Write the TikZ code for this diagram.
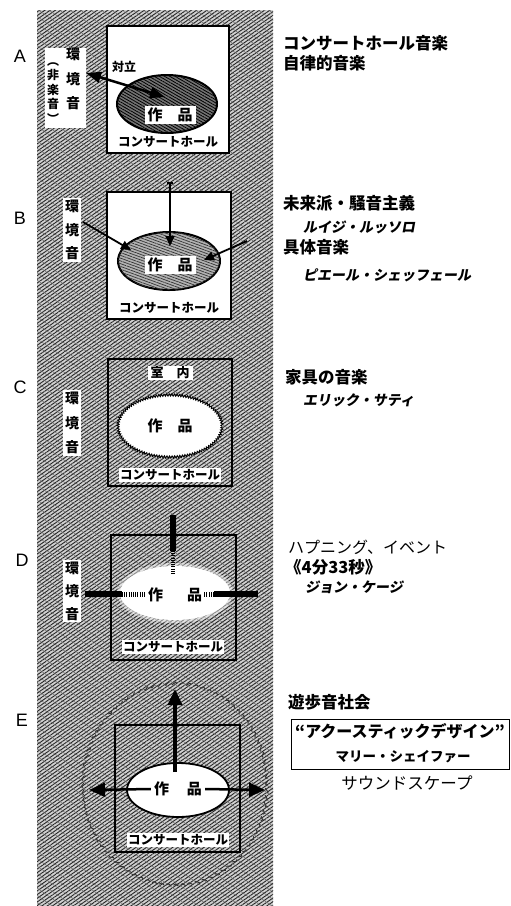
\documentclass[tikz,border=0pt]{standalone}
\usepackage{fontspec}
\setmainfont{Noto Sans CJK JP}
\newfontfamily\jpsl[FakeSlant=0.18]{Noto Sans CJK JP}
\newfontfamily\latf{Liberation Sans}
\usetikzlibrary{patterns.meta,arrows.meta,decorations.pathmorphing,shapes.geometric}
\newcommand\fsz[1]{\fontsize{#1}{#1}\selectfont}
\tikzset{
  texture/.style={fill=black!18, postaction={pattern={Lines[angle=35,distance=3pt,line width=0.9pt]}, pattern color=black!85}, postaction={pattern={Lines[angle=-35,distance=6pt,line width=0.5pt]}, pattern color=black!60}},
  darktex/.style={fill=black!55, postaction={pattern={Lines[angle=-30,distance=2.6pt,line width=0.8pt]}, pattern color=black}},
  lighttex/.style={fill=black!30, postaction={pattern={Lines[angle=-20,distance=2.6pt,line width=0.7pt]}, pattern color=black!80}},
  hall/.style={draw, line width=2.8pt, inner sep=0pt},
  lab/.style={font=\latf\fsz{18}, inner sep=0pt},
  work/.style={font=\bfseries\fsz{15}, fill=white, inner xsep=3pt, inner ysep=1.5pt},
  hallname/.style={font=\bfseries\fsz{12.5}, fill=white, inner sep=1pt},
  env/.style={font=\bfseries\fsz{14}, fill=white, align=center, inner xsep=2pt, inner ysep=2pt},
  head/.style={anchor=west, font=\bfseries\fsz{16.5}, inner sep=0pt},
  lighthead/.style={anchor=west, font=\fsz{16}, inner sep=0pt},
  who/.style={anchor=west, font=\jpsl\bfseries\fsz{14}, inner sep=0pt},
  arr/.style={-{Triangle[length=10pt,width=9pt]}, line width=1.8pt},
  bigarr/.style={-{Triangle[length=16pt,width=14pt]}, line width=3pt},
  bar/.style={line width=6pt},
  fuzzbar/.style={line width=5pt, dash pattern=on 1pt off 1.2pt},
}
\begin{document}
\begin{tikzpicture}[x=1pt,y=-1pt]
\useasboundingbox (0,0) rectangle (511,906);
\fill[white] (0,0) rectangle (511,906);
% textured strip
\path[texture] (37,10) rectangle (273,906);

% ---------------- A ----------------
\node[lab] (labA) at (20,56) {A};
\node[hall, fill=white, minimum width=122pt, minimum height=127pt] (hallA) at (168,89.5) {};
\node[ellipse, draw, line width=2pt, darktex, minimum width=100pt, minimum height=58pt] (elA) at (167,104) {};
\node[work] (workA) at (170,115) {作\hspace{1em}品};
\node[hallname] (hnA) at (168,142) {コンサートホール};
\node[fill=white, minimum width=41pt, minimum height=80pt] (envAbg) at (65.5,87.5) {};
\node[align=center, inner sep=0pt, font=\bfseries\fontsize{14}{24.5}\selectfont] (envA1) at (73,79) {環\\境\\音};
\node[align=center, inner sep=0pt, font=\bfseries\fontsize{12}{14.5}\selectfont] (envA2) at (53,93) {︵\\非\\楽\\音\\︶};
\node[font=\bfseries\fsz{12}, inner sep=0pt] (taiA) at (124,67) {対立};
\coordinate (aL) at (86,73);
\coordinate (aR) at (165,97);
\draw[{Triangle[length=15pt,width=11pt]}-{Triangle[length=15pt,width=11pt]}, line width=2.5pt] (aL) -- (aR);

% ---------------- B ----------------
\node[lab] (labB) at (20,218) {B};
\node[hall, fill=white, minimum width=124pt, minimum height=127pt] (hallB) at (169,255.5) {};
\node[ellipse, draw, line width=2pt, lighttex, minimum width=102pt, minimum height=58pt] (elB) at (169,261) {};
\node[work] (workB) at (170,265) {作\hspace{1em}品};
\node[hallname] (hnB) at (169,308) {コンサートホール};
\node[env, font=\bfseries\fontsize{14}{23.5}\selectfont] (envB) at (72,230) {環\\境\\音};
\coordinate (bT) at (170,183);
\coordinate (bTe) at (170,246);
\coordinate (bL) at (83,222);
\coordinate (bLe) at (131,250);
\coordinate (bR) at (247,241);
\coordinate (bRe) at (204,260);
\draw[line width=1.2pt] (167,183) -- (173,183);
\draw[arr] (bT) -- (bTe);
\draw[arr] (bL) -- (bLe);
\draw[arr] (bR) -- (bRe);

% ---------------- C ----------------
\node[lab] (labC) at (20,387) {C};
\node[hall, minimum width=124pt, minimum height=127pt] (hallC) at (170,422.5) {};
\node[work, font=\bfseries\fsz{13}, inner ysep=1pt] (roomC) at (170,373) {室\hspace{1em}内};
\node[ellipse, fill=white, minimum width=104pt, minimum height=62pt] (elC) at (170,426) {};
\draw[line width=0.9pt, decorate, decoration={zigzag, segment length=2.6pt, amplitude=1.1pt}] (elC.center) ellipse [x radius=52pt, y radius=31pt];
\node[work] (workC) at (170,426) {作\hspace{1em}品};
\node[hallname] (hnC) at (170,475) {コンサートホール};
\node[env, font=\bfseries\fontsize{14}{24.5}\selectfont] (envC) at (72,423) {環\\境\\音};

% ---------------- D ----------------
\node[lab] (labD) at (22,560) {D};
\node[hall, line width=2.5pt, minimum width=125pt, minimum height=125pt] (hallD) at (173.5,597.5) {};
\node[ellipse, fill=white, opacity=0.45, minimum width=116pt, minimum height=60pt] (elDsoft) at (175,593) {};
\node[ellipse, fill=white, minimum width=110pt, minimum height=54pt] (elD) at (175,593) {};
\node[work, fill=none] (workD) at (175,595) {作\hspace{1.6em}品};
\node[hallname] (hnD) at (173,647) {コンサートホール};
\node[env, font=\bfseries\fontsize{14}{23}\selectfont] (envD) at (72,591) {環\\境\\音};
\coordinate (dT) at (173,515);
\coordinate (dTm) at (173,551);
\coordinate (dTe) at (173,574);
\coordinate (dL) at (85,594);
\coordinate (dLm) at (122,594);
\coordinate (dLe) at (145,594);
\coordinate (dR) at (258,594);
\coordinate (dRm) at (214,594);
\coordinate (dRe) at (204,594);
\draw[bar] (dT) -- (dTm);
\draw[fuzzbar, line width=4pt] (dTm) -- (dTe);
\draw[bar] (dL) -- (dLm);
\draw[fuzzbar] (dLm) -- (dLe);
\draw[bar] (dR) -- (dRm);
\draw[fuzzbar] (dRm) -- (dRe);

% ---------------- E ----------------
\node[lab] (labE) at (22,720) {E};
\draw[black!80, line width=1pt, dash pattern=on 6pt off 3pt, decorate, decoration={snake, segment length=7pt, amplitude=1.3pt}] (175,786) ellipse [x radius=92pt, y radius=101pt];
\node[hall, line width=2.5pt, minimum width=125pt, minimum height=127pt] (hallE) at (177.5,788.5) {};
\node[ellipse, draw, line width=1.8pt, fill=white, minimum width=102pt, minimum height=54pt] (elE) at (178,790) {};
\node[work] (workE) at (178,789) {作\hspace{1.2em}品};
\node[hallname] (hnE) at (178,840) {コンサートホール};
\coordinate (eU0) at (175,772);
\coordinate (eU) at (175,689);
\coordinate (eL) at (89,790);
\coordinate (eR) at (265,790);
\draw[bigarr, line width=3.5pt] (eU0) -- (eU);
\draw[bigarr, line width=2.5pt] (workE.west) -- (eL);
\draw[bigarr, line width=2.5pt] (workE.east) -- (eR);

% ---------------- right texts ----------------
\node[head] (tA1) at (283,43) {コンサートホール音楽};
\node[head] (tA2) at (283,63) {自律的音楽};
\node[head] (tB1) at (283,203) {未来派・騒音主義};
\node[who] (tB2) at (303,227) {ルイジ・ルッソロ};
\node[head] (tB3) at (283,247) {具体音楽};
\node[who] (tB4) at (303,275) {ピエール・シェッフェール};
\node[head] (tC1) at (285,377) {家具の音楽};
\node[who] (tC2) at (303,400) {エリック・サティ};
\node[lighthead] (tD1) at (288,547) {ハプニング、イベント};
\node[head] (tD2) at (285,567) {《4分33秒》};
\node[who] (tD3) at (305,587) {ジョン・ケージ};
\node[head] (tE1) at (288,702) {遊歩音社会};
\node[draw, line width=1pt, minimum width=218pt, minimum height=50pt, inner sep=0pt] (acbox) at (400,744) {};
\node[font=\bfseries\fsz{16}, inner sep=0pt] (tE2) at (400,731) {“アクースティックデザイン”};
\node[font=\bfseries\fsz{13.5}, inner sep=0pt] (tE3) at (403,757) {マリー・シェイファー};
\node[font=\fsz{16.5}, inner sep=0pt] (tE4) at (407,783) {サウンドスケープ};
\end{tikzpicture}
\end{document}
